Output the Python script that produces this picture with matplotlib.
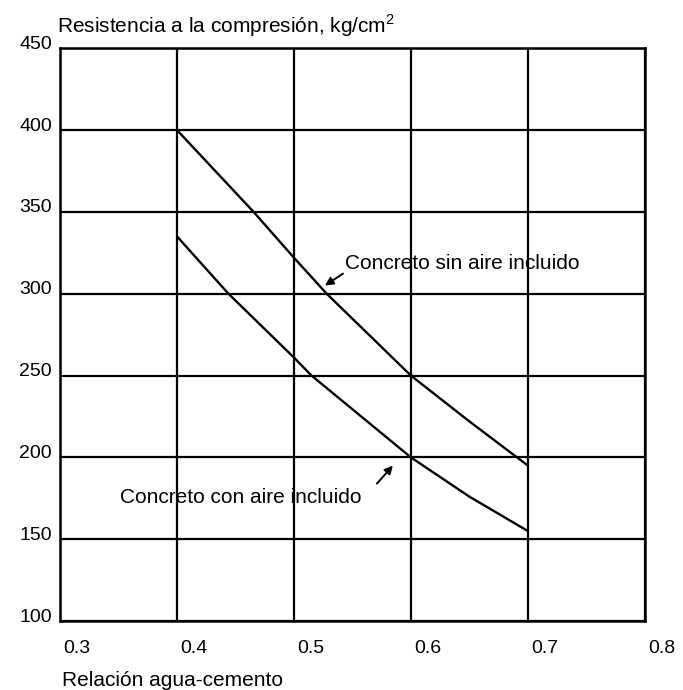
import numpy as np
import matplotlib
matplotlib.use("Agg")
import matplotlib.pyplot as plt
from matplotlib.transforms import ScaledTranslation

# Relación agua-cemento vs resistencia a la compresión
x_sin_aire = [0.40, 0.4655, 0.50, 0.528, 0.60, 0.65, 0.70]
y_sin_aire = [400, 350, 322, 300, 250, 222, 195]

x_con_aire = [0.40, 0.444, 0.50, 0.515, 0.60, 0.65, 0.70]
y_con_aire = [335, 300, 261, 250, 200, 176, 155]

x_ticks = [0.3, 0.4, 0.5, 0.6, 0.7, 0.8]
y_ticks = [100, 150, 200, 250, 300, 350, 400, 450]

plt.rcParams['font.family'] = ['Liberation Sans', 'DejaVu Sans']

fig = plt.figure(figsize=(6.83, 6.90), dpi=100)
ax = fig.add_axes([0.088, 0.10, 0.856, 0.830])

ax.plot(x_sin_aire, y_sin_aire, color='k', lw=1.7, solid_capstyle='butt')
ax.plot(x_con_aire, y_con_aire, color='k', lw=1.7, solid_capstyle='butt')

ax.set_xlim(0.3, 0.8)
ax.set_ylim(100, 450)
ax.set_xticks(x_ticks)
ax.set_yticks(y_ticks)
ax.set_xticklabels([f"{v:.1f}" for v in x_ticks], fontsize=14)
ax.set_yticklabels([str(v) for v in y_ticks], fontsize=14)
ax.tick_params(length=0)
ax.tick_params(axis='y', pad=6)
ax.tick_params(axis='x', pad=14)
ax.grid(True, color='k', lw=1.6)
for s in ax.spines.values():
    s.set_linewidth(1.8)

# las etiquetas van algo corridas respecto de las líneas
for lab in ax.get_xticklabels():
    lab.set_transform(lab.get_transform() + ScaledTranslation(0.17, 0, fig.dpi_scale_trans))
for lab in ax.get_yticklabels():
    lab.set_transform(lab.get_transform() + ScaledTranslation(0, 0.06, fig.dpi_scale_trans))

fig.text(57 / 683, 1 - 26 / 690, "Resistencia a la compresión, kg/cm$^\\mathregular{2}$",
         fontsize=15, ha='left', va='center')
fig.text(62 / 683, 1 - 680 / 690, "Relación agua-cemento", fontsize=15,
         ha='left', va='center')

arrow = dict(arrowstyle='-|>', color='k', lw=1.4, mutation_scale=12, shrinkA=0, shrinkB=0)

ax.text(0.5436, 318.5, "Concreto sin aire incluido", fontsize=15, ha='left', va='center')
ax.annotate("", xy=(0.5265, 305), xytext=(0.5419, 312.3), arrowprops=arrow)

ax.text(0.351, 175.6, "Concreto con aire incluido", fontsize=15, ha='left', va='center')
ax.annotate("", xy=(0.5846, 195), xytext=(0.571, 184), arrowprops=arrow)

fig.savefig("out.png", dpi=100)
